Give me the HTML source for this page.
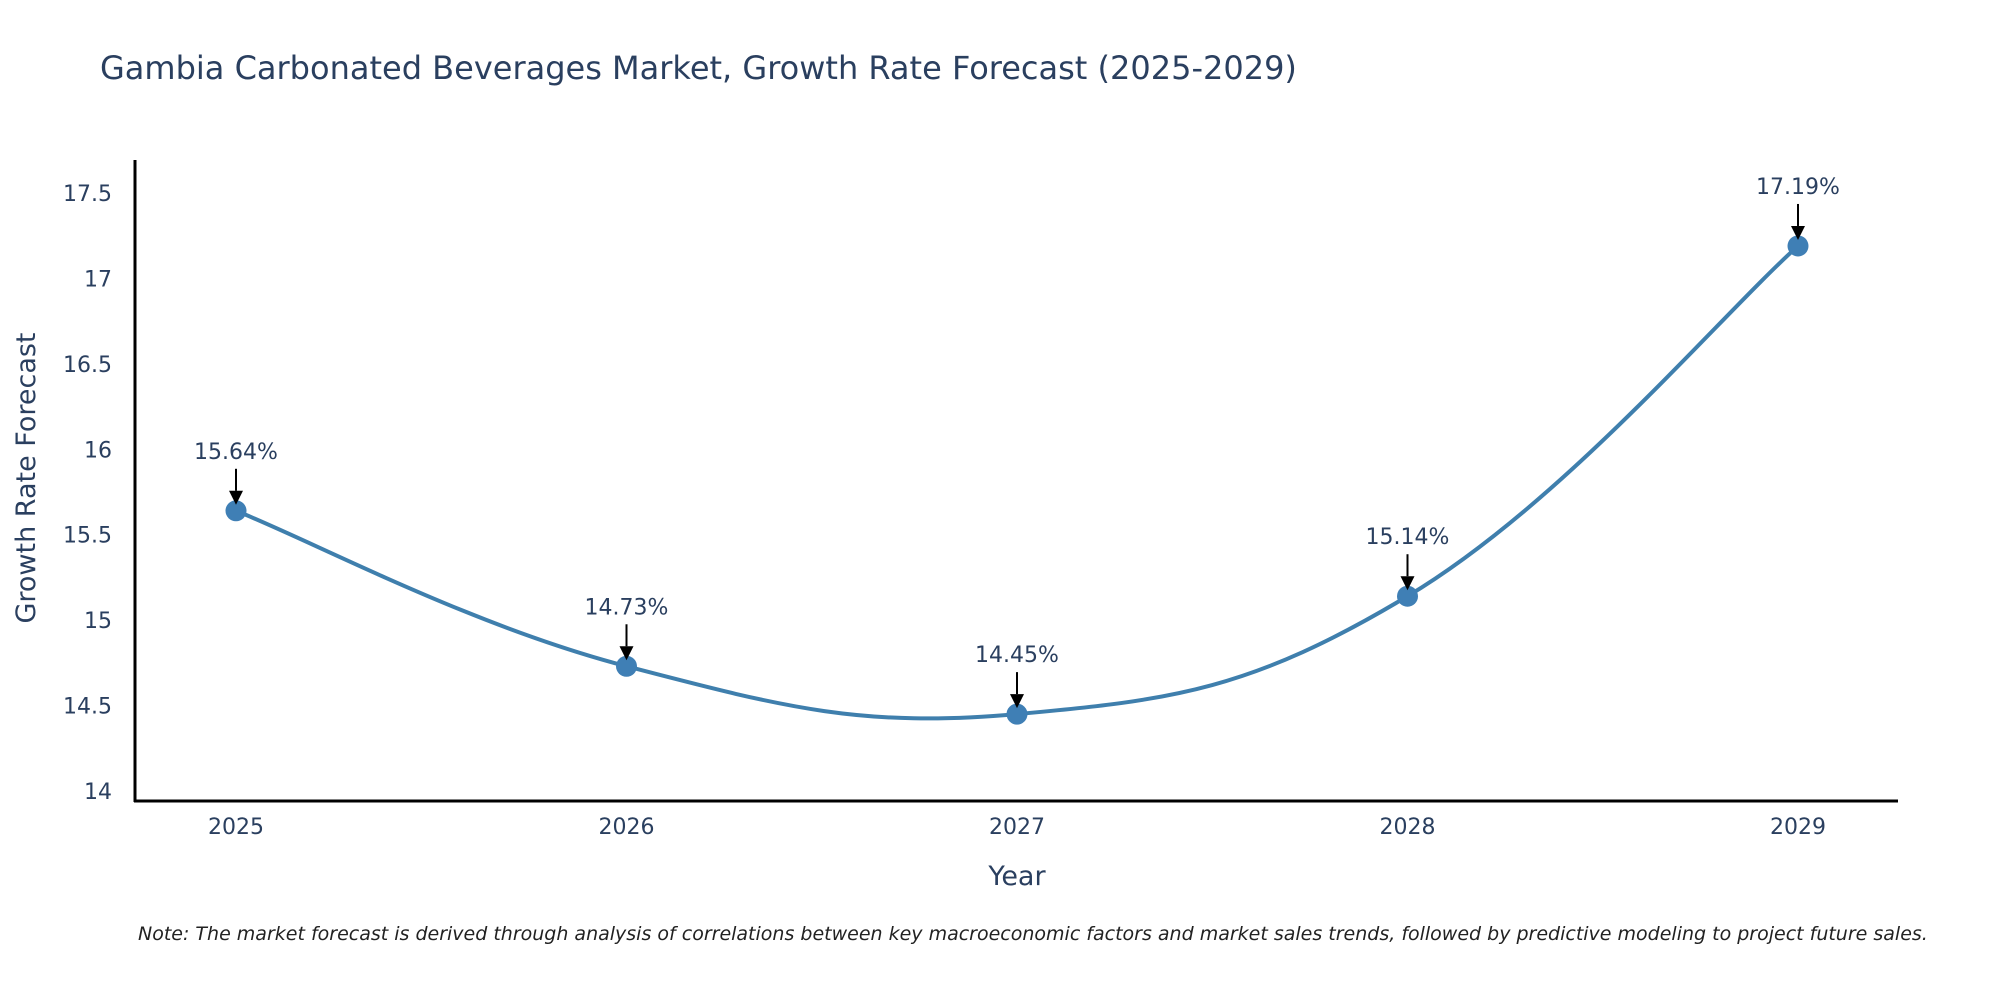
<!DOCTYPE html>
<html><head><meta charset="utf-8"><style>
body{margin:0;background:#fff;}
svg text{font-family:"DejaVu Sans","Liberation Sans",sans-serif;}
</style></head><body>
<svg id="chart" width="2000" height="1000" xmlns="http://www.w3.org/2000/svg">
<text x="100" y="79" font-size="32" fill="#2a3f5f">Gambia Carbonated Beverages Market, Growth Rate Forecast (2025-2029)</text>
<g id="yticks"></g>
<g id="xticks"></g>
<path id="line" fill="none" stroke="#3f7fad" stroke-width="4"/>
<g id="marks"></g>
<line x1="135" y1="160" x2="135" y2="802" stroke="#000" stroke-width="3"/>
<line x1="134" y1="801" x2="1898" y2="801" stroke="#000" stroke-width="3"/>
<text x="1017" y="885" font-size="27" fill="#2a3f5f" text-anchor="middle">Year</text>
<text transform="translate(35,478) rotate(-90)" font-size="27" fill="#2a3f5f" text-anchor="middle">Growth Rate Forecast</text>
<text x="138" y="940" font-size="19" font-style="italic" fill="#222">Note: The market forecast is derived through analysis of correlations between key macroeconomic factors and market sales trends, followed by predictive modeling to project future sales.</text>
</svg>
<script>
const years = [2025, 2026, 2027, 2028, 2029];
const growthValues = [15.64, 14.73, 14.45, 15.14, 17.19];
const valueLabels = ["15.64%", "14.73%", "14.45%", "15.14%", "17.19%"];
const yTickValues = [14, 14.5, 15, 15.5, 16, 16.5, 17, 17.5];
const yTickLabels = ["14", "14.5", "15", "15.5", "16", "16.5", "17", "17.5"];

const NS = "http://www.w3.org/2000/svg";
function xScale(yr){ return 236 + (yr - 2025) * (1798 - 236) / 4; }
function yScale(v){ return 791 - (v - 14) * (791 - 193) / 3.5; }
function mk(tag, attrs, parent){ const e = document.createElementNS(NS, tag); for (const k in attrs) e.setAttribute(k, attrs[k]); parent.appendChild(e); return e; }

const yt = document.getElementById('yticks');
yTickValues.forEach((v, i) => {
  const t = mk('text', {x: 112, y: yScale(v) + 8, 'font-size': 22, fill: '#2a3f5f', 'text-anchor': 'end'}, yt);
  
  
  t.textContent = yTickLabels[i];
});
const xt = document.getElementById('xticks');
years.forEach(yr => {
  const t = mk('text', {x: xScale(yr), y: 834, 'font-size': 22, fill: '#2a3f5f', 'text-anchor': 'middle'}, xt);
  
  
  t.textContent = String(yr);
});

const pts = years.map((yr, i) => [xScale(yr), yScale(growthValues[i])]);
let d = `M${pts[0][0]},${pts[0][1]}`;
const s = 0.2;
for (let i = 0; i < pts.length - 1; i++) {
  const p0 = pts[Math.max(i - 1, 0)], p1 = pts[i], p2 = pts[i + 1], p3 = pts[Math.min(i + 2, pts.length - 1)];
  const c1 = [p1[0] + (p2[0] - p0[0]) * s, p1[1] + (p2[1] - p0[1]) * s];
  const c2 = [p2[0] - (p3[0] - p1[0]) * s, p2[1] - (p3[1] - p1[1]) * s];
  d += ` C${c1[0]},${c1[1]} ${c2[0]},${c2[1]} ${p2[0]},${p2[1]}`;
}
document.getElementById('line').setAttribute('d', d);

const mg = document.getElementById('marks');
pts.forEach((p, i) => {
  const c = mk('circle', {cx: p[0], cy: p[1], r: 10.5, fill: '#3f7fb5'}, mg);
  
  
  const l = mk('line', {x1: p[0], y1: p[1] - 42, x2: p[0], y2: p[1] - 20, stroke: '#000', 'stroke-width': 2}, mg);
  
  
  const a = mk('polygon', {points: `${p[0]-7},${p[1]-20} ${p[0]+7},${p[1]-20} ${p[0]},${p[1]-6}`, fill: '#000'}, mg);
  
  
  const t = mk('text', {x: p[0], y: p[1] - 52, 'font-size': 22, fill: '#2a3f5f', 'text-anchor': 'middle'}, mg);
  
  
  t.textContent = valueLabels[i];
});
</script>
</body></html>
